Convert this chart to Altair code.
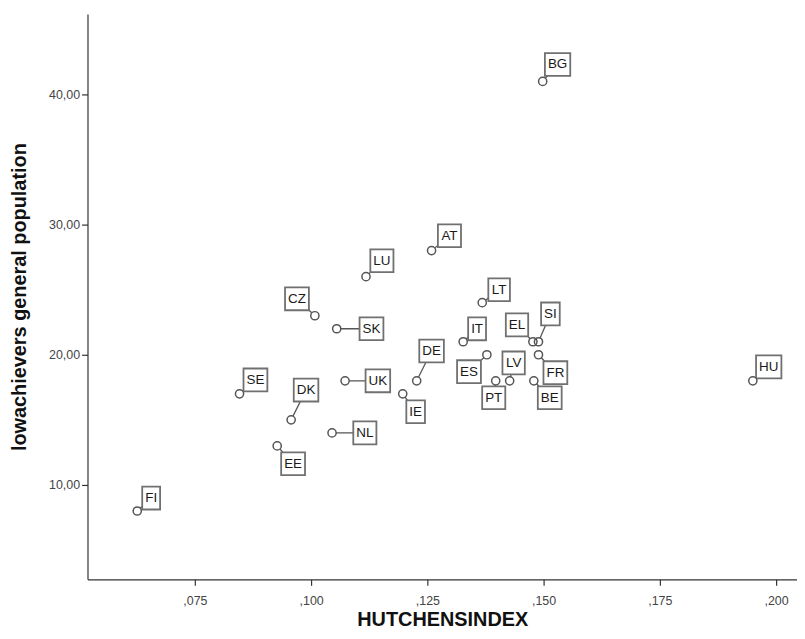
import altair as alt
import pandas as pd

# ---- data ----
countries = ["FI", "SE", "EE", "DK", "CZ", "SK", "UK", "NL", "LU", "AT", "IE", "DE",
             "IT", "LT", "ES", "PT", "LV", "EL", "SI", "FR", "BE", "BG", "HU"]
hutchens = [0.0626, 0.0846, 0.0927, 0.0957, 0.1008, 0.1055, 0.1073, 0.1045, 0.1118,
            0.1259, 0.1197, 0.1227, 0.1327, 0.1368, 0.1378, 0.1397, 0.1427, 0.1477,
            0.1489, 0.1489, 0.1479, 0.1498, 0.1950]
lowach = [8, 17, 13, 15, 23, 22, 18, 14, 26, 28, 17, 18,
          21, 24, 20, 18, 18, 21, 21, 20, 18, 41, 18]

x_ticks = [0.075, 0.100, 0.125, 0.150, 0.175, 0.200]
y_ticks = [10, 20, 30, 40]

# ---- label placement (pixel offsets of each label box from its point) ----
label_dx = [14, 16, 16, 15, -18, 35, 33, 33, 16, 18, 13, 15,
            14, 17, -18, -2, 4, -16, 12, 17, 16, 15, 16]
label_dy = [-13, -14, 18, -30, -17, 0, 0, 0, -16, -15, 18, -30,
            -13, -13, 17, 17, -18, -17, -28, 18, 17, -17, -14]

# ---- layout / style ----
W, H = 714, 569
XMIN, XMAX = 0.0519, 0.2045
YMIN, YMAX = 2.75, 46.18
FONT = "Liberation Sans"
LABEL_FS = 13.5
BOX_H = 23
CHAR_W = {"A": .667, "B": .667, "C": .722, "D": .722, "E": .667, "F": .611, "G": .778,
          "H": .722, "I": .278, "K": .667, "L": .556, "N": .722, "O": .778, "P": .667,
          "R": .722, "S": .667, "T": .611, "U": .722, "V": .667, "Z": .611, "X": .667}
box_w = [sum(CHAR_W.get(c, .667) for c in s) * LABEL_FS + 6 for s in countries]

df = pd.DataFrame({
    "country": countries, "h": hutchens, "low": lowach,
    "dx": label_dx, "dy": label_dy, "bw": box_w,
})

kx = (XMAX - XMIN) / W
ky = (YMAX - YMIN) / H

base = alt.Chart(df).transform_calculate(
    lx=f"datum.h + datum.dx * {kx}",
    ly=f"datum.low - datum.dy * {ky}",
).transform_calculate(
    bx1=f"datum.lx - datum.bw / 2 * {kx}",
    bx2=f"datum.lx + datum.bw / 2 * {kx}",
    by1=f"datum.ly - {BOX_H / 2} * {ky}",
    by2=f"datum.ly + {BOX_H / 2} * {ky}",
)

xscale = alt.Scale(domain=[XMIN, XMAX], nice=False, zero=False)
yscale = alt.Scale(domain=[YMIN, YMAX], nice=False, zero=False)
xaxis = alt.Axis(
    title="HUTCHENSINDEX", values=x_ticks,
    labelExpr="replace(format(datum.value, '.3f'), '0.', ',')",
    grid=False, tickSize=6, labelPadding=9, titleY=46, titleBaseline="alphabetic",
)
yaxis = alt.Axis(
    title="lowachievers general population", values=y_ticks,
    labelExpr="replace(format(datum.value, '.2f'), '.', ',')",
    grid=False, tickSize=6, labelPadding=2, titleX=-62, titleBaseline="alphabetic",
)

def X(field):
    return alt.X(f"{field}:Q", scale=xscale, axis=xaxis)

def Y(field):
    return alt.Y(f"{field}:Q", scale=yscale, axis=yaxis)

leaders = base.mark_rule(color="#555555", strokeWidth=1.3).encode(
    x=X("h"), x2="lx:Q", y=Y("low"), y2="ly:Q"
)
boxes = base.mark_rect(fill="white", stroke="#707070", strokeWidth=1.8).encode(
    x=X("bx1"), x2="bx2:Q", y=Y("by1"), y2="by2:Q"
)
texts = base.mark_text(font=FONT, fontSize=LABEL_FS, color="#1a1a1a",
                       align="center", baseline="middle").encode(
    x=X("lx"), y=Y("ly"), text="country:N"
)
dots_fill = base.mark_point(shape="circle", filled=True, color="white",
                            size=68, opacity=1).encode(x=X("h"), y=Y("low"))
dots = base.mark_point(shape="circle", filled=False, color="#555555",
                       strokeWidth=1.5, size=68, opacity=1).encode(x=X("h"), y=Y("low"))

chart = alt.layer(leaders, boxes, texts, dots_fill, dots).properties(
    width=W, height=H,
    autosize=alt.AutoSizeParams(type="none"),
    padding={"left": 80, "top": 4, "right": 0, "bottom": 50},
    background="white",
).configure_view(stroke=None).configure_axis(
    domainColor="#333333", domainWidth=1.2, tickColor="#333333", tickWidth=1.2,
    labelFont=FONT, labelFontSize=12.5, labelColor="#444444",
    titleFont=FONT, titleFontSize=20, titleFontWeight="bold", titleColor="#111111",
)

chart.save("out.html", embed_options={"renderer": "svg", "actions": False})
